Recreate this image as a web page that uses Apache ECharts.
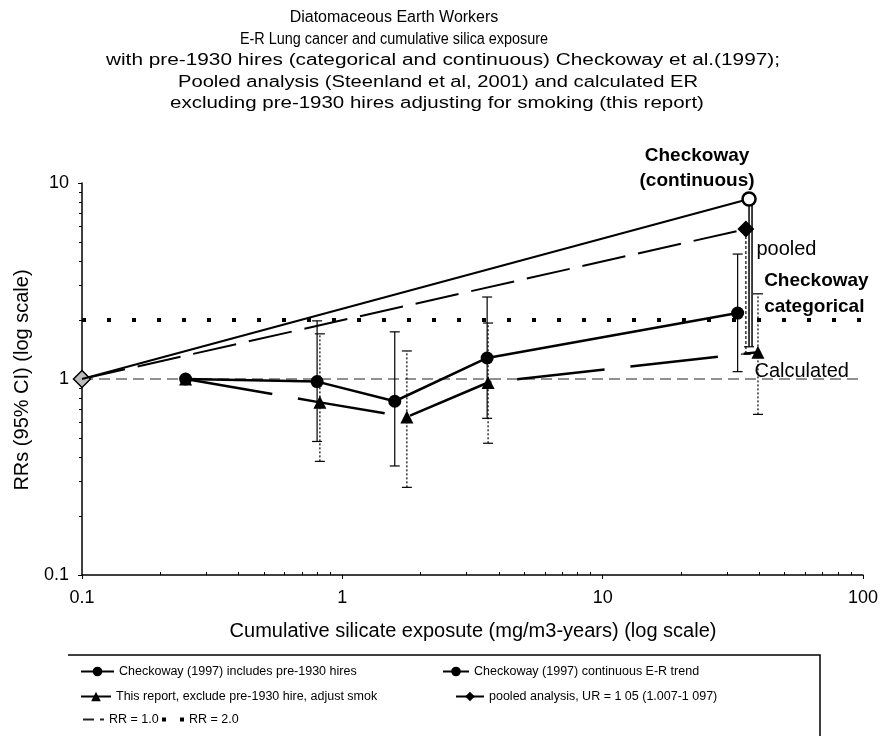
<!DOCTYPE html>
<html><head><meta charset="utf-8">
<script src="https://cdn.jsdelivr.net/npm/echarts@6/dist/echarts.min.js"></script>
<style>html,body{margin:0;padding:0;background:#fff}#c{width:881px;height:739px}</style>
</head><body><div id="c"></div><script>
// ---- text ----
const titleLines = [
  'Diatomaceous Earth Workers',
  'E-R Lung cancer and cumulative silica exposure',
  'with pre-1930 hires (categorical and continuous) Checkoway et al.(1997);',
  'Pooled analysis (Steenland et al, 2001) and calculated ER',
  'excluding pre-1930 hires adjusting for smoking (this report)'
];
const xAxisTitle = 'Cumulative silicate exposute (mg/m3-years) (log scale)';
const yAxisTitle = 'RRs (95% CI) (log scale)';
const seriesNames = [
  'Checkoway (1997) includes pre-1930 hires',
  'Checkoway (1997) continuous E-R trend',
  'This report, exclude pre-1930 hire, adjust smok',
  'pooled analysis, UR = 1 05 (1.007-1 097)',
  'RR = 1.0',
  'RR = 2.0'
];
const annotContinuous = 'Checkoway\n(continuous)';
const annotPooled = 'pooled';
const annotCategorical = 'Checkoway\ncategorical';
const annotCalculated = 'Calculated';

// ---- ticks ----
const xTickLabels = [0.1, 1, 10, 100];
const yTickLabels = [0.1, 1, 10];
const xMinorTicks = [0.2,0.3,0.4,0.5,0.6,0.7,0.8,0.9,2,3,4,5,6,7,8,9,20,30,40,50,60,70,80,90];
const yMinorTicks = [0.2,0.3,0.4,0.5,0.6,0.7,0.8,0.9,2,3,4,5,6,7,8,9];

// ---- data ----
// Checkoway categorical (includes pre-1930 hires)
const catX  = [0.25, 0.8, 1.59, 3.6, 33];
const catRR = [1.0, 0.97, 0.77, 1.28, 2.17];
const catLo = [null, 0.48, 0.36, 0.63, 1.09];
const catHi = [null, 1.98, 1.74, 2.62, 4.34];
// This report (exclude pre-1930 hires, adjusted for smoking)
const repX  = [0.25, 0.82, 1.77, 3.63, 39.5];
const repRR = [1.0, 0.76, 0.64, 0.96, 1.37];
const repLo = [null, 0.38, 0.28, 0.47, 0.66];
const repHi = [null, 1.7, 1.39, 1.93, 2.72];
// Checkoway continuous trend
const contX  = [0.1, 36.5];
const contRR = [1.0, 8.28];
const contLo = [null, 1.46];
const contHi = [null, 8.28];
// Pooled analysis
const poolX  = [0.1, 35.5];
const poolRR = [1.0, 5.82];
const poolLo = [null, 1.34];
const poolHi = [null, 5.82];
// Reference lines
const rr1X = [0.1, 100], rr1Y = [1.0, 1.0];
const rr2X = [0.1, 100], rr2Y = [2.0, 2.0];

// ---- build ----
const FONT = "'Liberation Sans', Arial, sans-serif";
const zip = (xs, ys) => xs.map((x, i) => [x, ys[i]]);
const bars = (xs, lo, hi) => xs.map((x, i) => [x, lo[i], hi[i]]).filter(d => d[1] != null);

function errBar(dash, width, dbl) {
  return function (params, api) {
    const x = api.value(0);
    const p1 = api.coord([x, api.value(1)]);
    const p2 = api.coord([x, api.value(2)]);
    const c = 5;
    const st = { stroke: '#000', lineWidth: width, lineDash: dash, fill: null };
    const kids = [
      { type: 'line', shape: { x1: p1[0], y1: p1[1], x2: p2[0], y2: p2[1] }, style: st },
      { type: 'line', shape: { x1: p1[0] - c, y1: p1[1], x2: p1[0] + c, y2: p1[1] }, style: { stroke: '#000', lineWidth: 1.2 } }
    ];
    if (dbl) kids.push({ type: 'line', shape: { x1: p1[0] + 3, y1: p1[1], x2: p2[0] + 3, y2: p2[1] }, style: st });
    else kids.push({ type: 'line', shape: { x1: p2[0] - c, y1: p2[1], x2: p2[0] + c, y2: p2[1] }, style: { stroke: '#000', lineWidth: 1.2 } });
    return { type: 'group', children: kids };
  };
}

const catData = zip(catX, catRR).map((d, i) => i === catX.length - 1 ? {
  value: d, label: { show: true, formatter: annotCategorical, position: 'right', distance: 20, offset: [0, -19],
    fontSize: 19, fontWeight: 'bold', lineHeight: 26, color: '#000', fontFamily: FONT, align: 'left' } } : d);
const repData = zip(repX, repRR).map((d, i) => i === repX.length - 1 ? {
  value: d, label: { show: true, formatter: annotCalculated, position: 'right', distance: 0, offset: [-10, 19],
    fontSize: 20, color: '#000', fontFamily: FONT, align: 'left' } } : d);
const contData = zip(contX, contRR).map((d, i) => i === 0 ? { value: d, symbol: 'none' } : {
  value: d, symbol: 'circle', symbolSize: 13, itemStyle: { borderWidth: 2.5, color: '#fff', borderColor: '#000' },
  label: { show: true, formatter: annotContinuous, position: 'top', distance: 0, offset: [-52, 2],
    fontSize: 19, fontWeight: 'bold', lineHeight: 25, color: '#000', fontFamily: FONT, align: 'center' } });
const poolData = zip(poolX, poolRR).map((d, i) => i === 0 ? {
  value: d, itemStyle: { color: '#bbb', borderColor: '#000', borderWidth: 1.5 } } : {
  value: d, label: { show: true, formatter: annotPooled, position: 'right', distance: 2, offset: [0, 20],
    fontSize: 20, color: '#000', fontFamily: FONT, align: 'left' } });

const legendRows = [
  { name: seriesNames[0], left: 80, top: 665, w: 33 },
  { name: seriesNames[1], left: 442, top: 665, w: 26 },
  { name: seriesNames[2], left: 80, top: 690, w: 30 },
  { name: seriesNames[3], left: 455, top: 690, w: 28 },
  { name: seriesNames[4], left: 82, top: 713, w: 21, extra: { itemStyle: { opacity: 0 } } },
  { name: seriesNames[5], left: 160, top: 713, w: 22,
    extra: { itemStyle: { opacity: 0 }, lineStyle: { width: 4, type: [4, 14], cap: 'butt' } } }
];
// title line placement (centre x, horizontal scale)
const titleCx = [394, 394, 443, 438, 437];
const titleSx = [1.0, 0.9, 1.3, 1.26, 1.28];

const chart = echarts.init(document.getElementById('c'), null, { renderer: 'canvas' });
const axisCommon = { type: 'log', logBase: 10, splitLine: { show: false } };
chart.setOption({
  animation: false,
  backgroundColor: '#fff',
  grid: { left: 82, right: 18, top: 183, bottom: 164 },
  xAxis: [
    Object.assign({}, axisCommon, {
      min: 0.1, max: 100,
      axisLine: { lineStyle: { color: '#000', width: 1.5 } },
      axisTick: { show: true, inside: false, length: 4, lineStyle: { color: '#000' } },
      axisLabel: { color: '#000', fontSize: 18, fontFamily: FONT, margin: 14,
        customValues: xTickLabels, formatter: v => String(v) }
    }),
    Object.assign({}, axisCommon, {
      min: 0.1, max: 100, position: 'bottom',
      axisLine: { show: false },
      axisTick: { show: true, inside: true, length: 3, customValues: xMinorTicks, lineStyle: { color: '#000' } },
      axisLabel: { show: false }
    })
  ],
  yAxis: [
    Object.assign({}, axisCommon, {
      min: 0.1, max: 10,
      axisLine: { lineStyle: { color: '#000', width: 1.5 } },
      axisTick: { show: true, inside: false, length: 4, lineStyle: { color: '#000' } },
      axisLabel: { color: '#000', fontSize: 18, fontFamily: FONT, margin: 13,
        customValues: yTickLabels, formatter: v => String(v) }
    }),
    Object.assign({}, axisCommon, {
      min: 0.1, max: 10, position: 'left',
      axisLine: { show: false },
      axisTick: { show: true, inside: false, length: 3, customValues: yMinorTicks, lineStyle: { color: '#000' } },
      axisLabel: { show: false }
    })
  ],
  legend: legendRows.map(r => Object.assign({
    data: [r.name], left: r.left, top: r.top, padding: 0, itemWidth: r.w, itemHeight: 12, itemGap: 4,
    textStyle: { fontSize: 12.5, color: '#000', fontFamily: FONT },
    selectedMode: false
  }, r.extra || {})),
  graphic: [].concat(
    titleLines.map((t, i) => ({
      type: 'text', x: titleCx[i], y: 18 + i * 21.5, scaleX: titleSx[i],
      style: { text: t, fontSize: 16, fontFamily: FONT, fill: '#000', align: 'center', verticalAlign: 'middle' }
    })),
    [
      { type: 'text', x: 473, y: 631,
        style: { text: xAxisTitle, fontSize: 20, fontFamily: FONT, fill: '#000', align: 'center', verticalAlign: 'middle' } },
      { type: 'text', x: 22, y: 380, rotation: Math.PI / 2,
        style: { text: yAxisTitle, fontSize: 20, fontFamily: FONT, fill: '#000', align: 'center', verticalAlign: 'middle' } },
      { type: 'polyline', shape: { points: [[68, 655], [820, 655], [820, 736]] },
        style: { stroke: '#000', lineWidth: 1.5, fill: null } }
    ]
  ),
  series: [
    { name: seriesNames[0], type: 'line', data: catData, symbol: 'circle', symbolSize: 13, z: 5,
      lineStyle: { color: '#000', width: 2.5 }, itemStyle: { color: '#000' } },
    { name: seriesNames[1], type: 'line', data: contData, symbol: 'circle', symbolSize: 13, z: 6,
      lineStyle: { color: '#000', width: 2 }, itemStyle: { color: '#000' } },
    { name: seriesNames[2], type: 'line', data: repData, symbol: 'triangle', symbolSize: 13, z: 5,
      lineStyle: { color: '#000', width: 2.5, type: [88, 26] }, itemStyle: { color: '#000' } },
    { name: seriesNames[3], type: 'line', data: poolData, symbol: 'diamond', symbolSize: 17, z: 5,
      lineStyle: { color: '#000', width: 2, type: [44, 13] }, itemStyle: { color: '#000' } },
    { name: seriesNames[4], type: 'line', data: zip(rr1X, rr1Y), symbol: 'none', z: 2,
      lineStyle: { color: '#222', width: 1, type: [11, 6] }, itemStyle: { color: '#222' } },
    { name: seriesNames[5], type: 'line', data: zip(rr2X, rr2Y), symbol: 'none', z: 2,
      lineStyle: { color: '#000', width: 4, type: [4, 21], cap: 'butt' }, itemStyle: { color: '#000' } },
    { type: 'custom', renderItem: errBar(null, 1.2), data: bars(catX, catLo, catHi), z: 3,
      encode: { x: 0, y: [1, 2] } },
    { type: 'custom', renderItem: errBar([2, 2], 1.2), data: bars(repX, repLo, repHi), z: 3,
      encode: { x: 0, y: [1, 2] } },
    { type: 'custom', renderItem: errBar(null, 1.5, true), data: bars(contX, contLo, contHi), z: 3,
      encode: { x: 0, y: [1, 2] } },
    { type: 'custom', renderItem: errBar([3, 2], 1.2), data: bars(poolX, poolLo, poolHi), z: 3,
      encode: { x: 0, y: [1, 2] } }
  ]
});
</script></body></html>
